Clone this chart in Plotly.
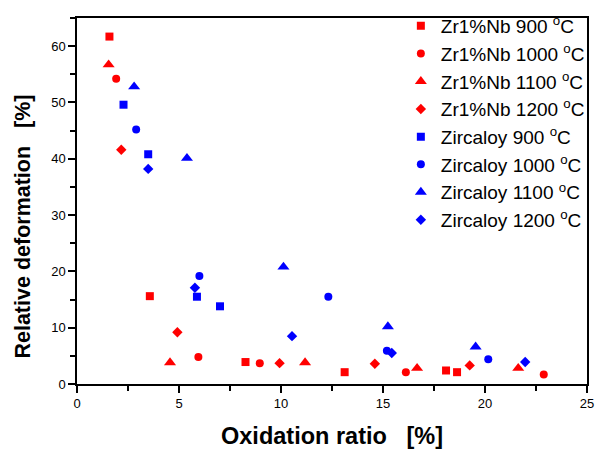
import plotly.graph_objects as go

# Data (x: oxidation ratio %, y: relative deformation %)
zrnb_900_x = [1.59, 3.57, 8.26, 13.12, 18.09, 18.63]
zrnb_900_y = [61.7, 15.6, 3.9, 2.1, 2.4, 2.1]
zrnb_1000_x = [1.92, 5.95, 8.96, 16.12, 22.88]
zrnb_1000_y = [54.2, 4.8, 3.7, 2.1, 1.7]
zrnb_1100_x = [1.55, 4.56, 11.18, 16.67, 21.63]
zrnb_1100_y = [56.7, 3.8, 3.8, 2.8, 2.8]
zrnb_1200_x = [2.17, 4.92, 9.93, 14.60, 19.25]
zrnb_1200_y = [41.6, 9.2, 3.7, 3.6, 3.3]
zry_900_x = [2.28, 3.49, 5.88, 7.01]
zry_900_y = [49.6, 40.8, 15.5, 13.8]
zry_1000_x = [2.90, 6.00, 12.32, 15.19, 20.16]
zry_1000_y = [45.2, 19.2, 15.5, 5.9, 4.4]
zry_1100_x = [2.80, 5.39, 10.12, 15.24, 19.54]
zry_1100_y = [52.8, 40.1, 20.8, 10.2, 6.6]
zry_1200_x = [3.49, 5.78, 10.54, 15.43, 21.97]
zry_1200_y = [38.2, 17.1, 8.5, 5.5, 3.9]

series_names = [
    "Zr1%Nb 900 <sup>o</sup>C", "Zr1%Nb 1000 <sup>o</sup>C",
    "Zr1%Nb 1100 <sup>o</sup>C", "Zr1%Nb 1200 <sup>o</sup>C",
    "Zircaloy 900 <sup>o</sup>C", "Zircaloy 1000 <sup>o</sup>C",
    "Zircaloy 1100 <sup>o</sup>C", "Zircaloy 1200 <sup>o</sup>C",
]
xs = [zrnb_900_x, zrnb_1000_x, zrnb_1100_x, zrnb_1200_x,
      zry_900_x, zry_1000_x, zry_1100_x, zry_1200_x]
ys = [zrnb_900_y, zrnb_1000_y, zrnb_1100_y, zrnb_1200_y,
      zry_900_y, zry_1000_y, zry_1100_y, zry_1200_y]
symbols = ["square", "circle", "triangle-up", "diamond"] * 2
sizes = [8, 8, 10.5, 8] * 2
colors = ["#FF0000"] * 4 + ["#0000FF"] * 4

FONT = "Arial, Liberation Sans, sans-serif"

fig = go.Figure()
for i, (n, x, y) in enumerate(zip(series_names, xs, ys)):
    fig.add_trace(go.Scatter(
        x=x, y=y, mode="markers", name=n, legendgroup=f"g{i}",
        marker=dict(symbol=symbols[i], color=colors[i], size=sizes[i], line=dict(width=0)),
    ))

axis_common = dict(
    showline=True, linecolor="black", linewidth=1.5, mirror=True,
    ticks="outside", ticklen=7, tickwidth=1.5, tickcolor="black",
    showgrid=False, zeroline=False, automargin=False,
    tickfont=dict(family=FONT, size=13, color="black"),
)

fig.update_layout(
    width=597, height=454,
    margin=dict(l=77, r=8, t=7, b=70),
    paper_bgcolor="white", plot_bgcolor="white",
    font=dict(family=FONT, color="black"),
    showlegend=True,
    legend=dict(
        x=0.635, xanchor="left", y=1.03, yanchor="top",
        bgcolor="rgba(0,0,0,0)", borderwidth=0,
        font=dict(family=FONT, size=19, color="black"),
        tracegroupgap=0, maxheight=1,
    ),
    xaxis=dict(
        range=[0, 25], dtick=5, tick0=0,
        minor=dict(dtick=2.5, ticks="outside", ticklen=5, tickwidth=1.5, tickcolor="black"),
        title=dict(text="<b>Oxidation ratio&nbsp;&nbsp;&nbsp;[%]</b>",
                   font=dict(family=FONT, size=23.5), standoff=17),
        **axis_common,
    ),
    yaxis=dict(
        range=[0, 65], dtick=10, tick0=0,
        minor=dict(dtick=5, ticks="outside", ticklen=5, tickwidth=1.5, tickcolor="black"),
        **axis_common,
    ),
    annotations=[dict(
        text="<b>Relative deformation&nbsp;&nbsp;&nbsp;[%]</b>",
        xref="paper", yref="paper", x=-0.106, y=0.43,
        xanchor="center", yanchor="middle", textangle=-90, showarrow=False,
        font=dict(family=FONT, size=21.5, color="black"),
    )],
)

fig.write_html(
    "out.html", config={"displayModeBar": False},
    post_script=("document.body.style.margin='0';"
                 "document.body.style.overflow='hidden';"
                 "document.documentElement.style.overflow='hidden';"),
)
